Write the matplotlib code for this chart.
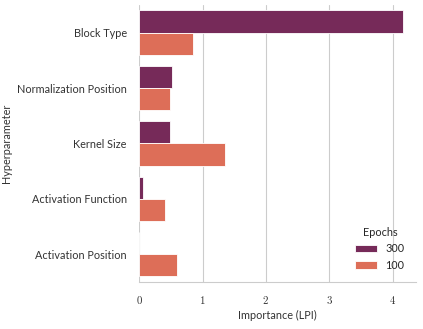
import numpy as np
import pandas as pd
import matplotlib
matplotlib.use("Agg")
import matplotlib.pyplot as plt
import matplotlib.ticker as mticker
import seaborn as sns

hyperparams = ["Block Type", "Normalization Position", "Kernel Size",
               "Activation Function", "Activation Position"]
epochs = ["300", "100"]
lpi_300 = [4.16, 0.52, 0.49, 0.06, 0.0]
lpi_100 = [0.85, 0.49, 1.36, 0.415, 0.60]
colors = ["#762A59", "#DD6E58"]

df = pd.DataFrame({
    "Hyperparameter": hyperparams * 2,
    "Importance (LPI)": lpi_300 + lpi_100,
    "Epochs": [epochs[0]] * len(hyperparams) + [epochs[1]] * len(hyperparams),
})

sns.set_style("whitegrid")
plt.rcParams["font.family"] = ["Lato", "DejaVu Sans"]
plt.rcParams["mathtext.fontset"] = "cm"

fig, ax = plt.subplots(figsize=(4.23, 3.29), dpi=100)
fig.subplots_adjust(left=0.329, right=0.983, top=0.985, bottom=0.143)

sns.barplot(data=df, y="Hyperparameter", x="Importance (LPI)", hue="Epochs",
            hue_order=epochs, palette=colors, orient="h", ax=ax,
            saturation=1, edgecolor="white", linewidth=0.6)

ax.set_xticks([0, 1, 2, 3, 4])
ax.xaxis.set_major_formatter(mticker.FuncFormatter(lambda v, p: f"${int(v)}$"))
ax.tick_params(axis="both", labelsize=7.8, length=0, colors="#333333")
ax.tick_params(axis="x", pad=8.5)
ax.tick_params(axis="y", pad=9)
ax.grid(axis="y", visible=False)
ax.grid(axis="x", color="#cccccc", linewidth=0.8)
ax.set_xlabel("Importance (LPI)", fontsize=7.8, color="#333333", labelpad=3)
ax.set_ylabel("Hyperparameter", fontsize=7.8, color="#333333")
ax.yaxis.set_label_coords(-0.46, 0.5)
sns.despine(ax=ax, left=True)
ax.spines["bottom"].set_color("#cccccc")

leg = ax.legend(title="Epochs", loc="lower right", frameon=False,
                fontsize=7.8, title_fontsize=7.8, handlelength=2.0,
                bbox_to_anchor=(0.995, 0.005))

fig.savefig("out.png", dpi=100)
